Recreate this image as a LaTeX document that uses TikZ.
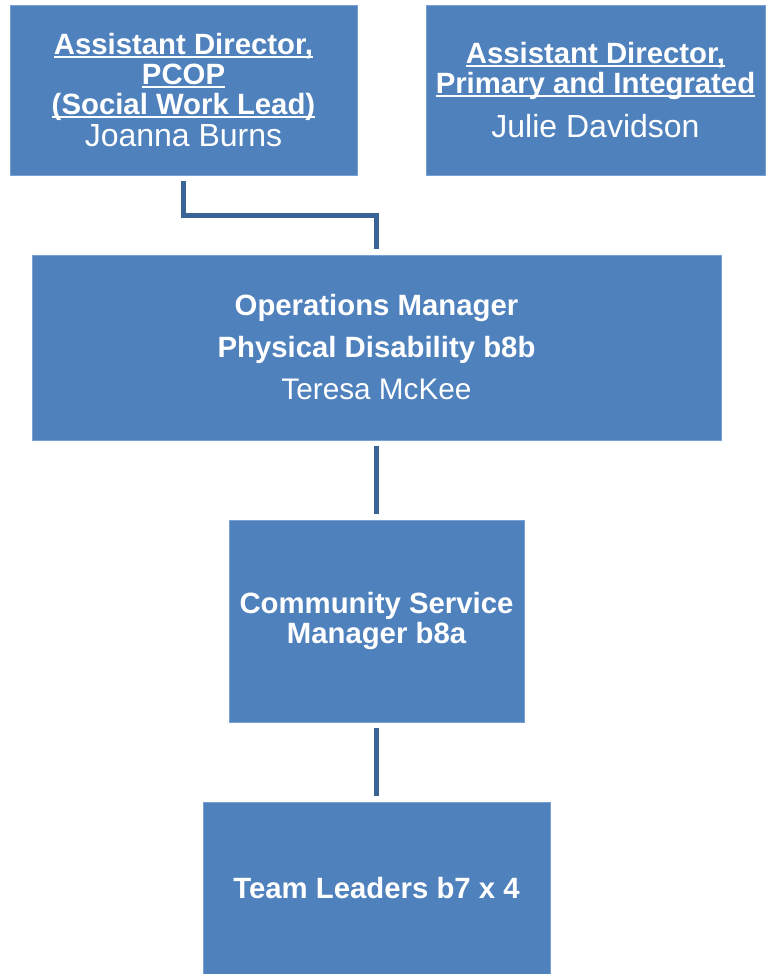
\documentclass[tikz,border=0pt]{standalone}
\usepackage{fontspec}
\setmainfont{Liberation Sans}
\usepackage{tikz}
\usetikzlibrary{calc}

% underline sitting just under the baseline, across descenders
\newcommand{\undl}[1]{\setbox0\hbox{#1}\rlap{\rule[-2.4pt]{\wd0}{1.5pt}}\box0}

\begin{document}
\begin{tikzpicture}[x=0.75pt,y=0.75pt,yscale=-1,xscale=1,
    orgbox/.style={fill={rgb, 255:red, 79; green, 129; blue, 189 }, draw={rgb, 255:red, 120; green, 160; blue, 210 }, line width=0.4pt,
        text=white, align=center, inner sep=0pt, font=\fontsize{22}{22.5}\selectfont\bfseries},
    orgline/.style={draw={rgb, 255:red, 59; green, 100; blue, 150 }, line width=3.75pt, shorten <=4.5pt, shorten >=4.5pt}]
    \useasboundingbox (0,0) rectangle (765,974);

    %Shape: Rectangle [Assistant Director PCOP]
    \node [orgbox, minimum width=260.25pt, minimum height=127.5pt] (adpcop) at (183.5,90)
        {\undl{Assistant Director,}\\ \undl{PCOP}\\ \undl{(Social Work Lead)}\\[1pt]
         {\mdseries\fontsize{24}{25}\selectfont Joanna Burns}};
    %Shape: Rectangle [Assistant Director Primary]
    \node [orgbox, minimum width=254.25pt, minimum height=127.5pt] (adprim) at (595.5,90)
        {\undl{Assistant Director,}\\ \undl{Primary and Integrated}\\[10pt]
         {\mdseries\fontsize{24}{25}\selectfont Julie Davidson}};
    %Shape: Rectangle [Operations Manager]
    \node [orgbox, minimum width=516.75pt, minimum height=138.75pt] (opsman) at (376.5,347.5)
        {Operations Manager\\[9pt] Physical Disability b8b\\[9pt]
         {\mdseries\fontsize{22.3}{22.5}\selectfont Teresa McKee}};
    %Shape: Rectangle [Community Service Manager]
    \node [orgbox, minimum width=221.25pt, minimum height=151.5pt] (csman) at (376.5,621)
        {Community Service\\ Manager b8a};
    %Shape: Rectangle [Team Leaders]
    \node [orgbox, minimum width=260.25pt, minimum height=129pt] (teamlead) at (376.5,888)
        {Team Leaders b7 x 4};

    %Connectors
    \coordinate (elbow) at ($(adpcop.south)!0.5!(opsman.north)$);
    \draw [orgline] (adpcop.south) |- (elbow) -| (opsman.north);
    \draw [orgline] (opsman.south) -- (csman.north);
    \draw [orgline] (csman.south) -- (teamlead.north);

\end{tikzpicture}
\end{document}
